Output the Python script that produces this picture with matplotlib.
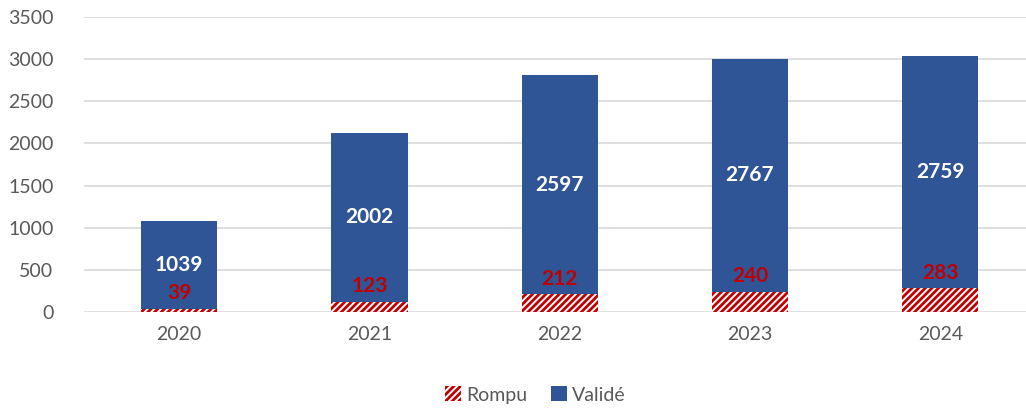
import matplotlib
matplotlib.use("Agg")
import matplotlib.pyplot as plt
from matplotlib.patches import Patch

years = ["2020", "2021", "2022", "2023", "2024"]
rompu = [39, 123, 212, 240, 283]
valide = [1039, 2002, 2597, 2767, 2759]

BLUE = "#2F5597"
RED = "#C00000"
GRAY = "#595959"

plt.rcParams['font.family'] = ['Lato', 'DejaVu Sans']
plt.rcParams['hatch.linewidth'] = 2.0
plt.rcParams['hatch.color'] = RED

fig = plt.figure(figsize=(10.26, 4.09), dpi=100)
ax = fig.add_axes([84/1026, 97/409, 1 - 84/1026, 295/409])

x = list(range(len(years)))
w = 0.4
b1 = ax.bar(x, rompu, w, color="white", edgecolor=RED, hatch="/////", linewidth=0, zorder=3)
b2 = ax.bar(x, valide, w, bottom=rompu, color=BLUE, linewidth=0, zorder=3)

for i in x:
    ax.text(i, rompu[i] + valide[i] / 2, str(valide[i]), ha="center", va="center",
            color="white", fontsize=15, fontweight="bold", zorder=5)
    ax.annotate(str(rompu[i]), (i, rompu[i]), xytext=(0, 4), textcoords="offset points",
                ha="center", va="bottom", color=RED, fontsize=15, fontweight="bold", zorder=5)

ax.set_ylim(0, 3500)
ax.set_yticks(range(0, 3501, 500))
ax.set_xlim(-0.5, 4.45)
ax.set_xticks(x)
ax.set_xticklabels(years)
ax.yaxis.grid(True, color="#D9D9D9", linewidth=1.2, zorder=0)
ax.set_axisbelow(True)
for s in ax.spines.values():
    s.set_visible(False)
ax.tick_params(axis="both", length=0, labelsize=14, labelcolor=GRAY)
ax.tick_params(axis="y", pad=22)
ax.tick_params(axis="x", pad=10)

handles = [Patch(facecolor="white", edgecolor=RED, hatch="/////", linewidth=0, label="Rompu"),
           Patch(facecolor=BLUE, label="Validé")]
fig.legend(handles=handles, loc="center", bbox_to_anchor=(0.522, 14/409), ncol=2,
           frameon=False, fontsize=14, labelcolor=GRAY, handlelength=0.8, handleheight=0.8,
           handletextpad=0.3, columnspacing=1.2)

fig.savefig("out.png", dpi=100)
